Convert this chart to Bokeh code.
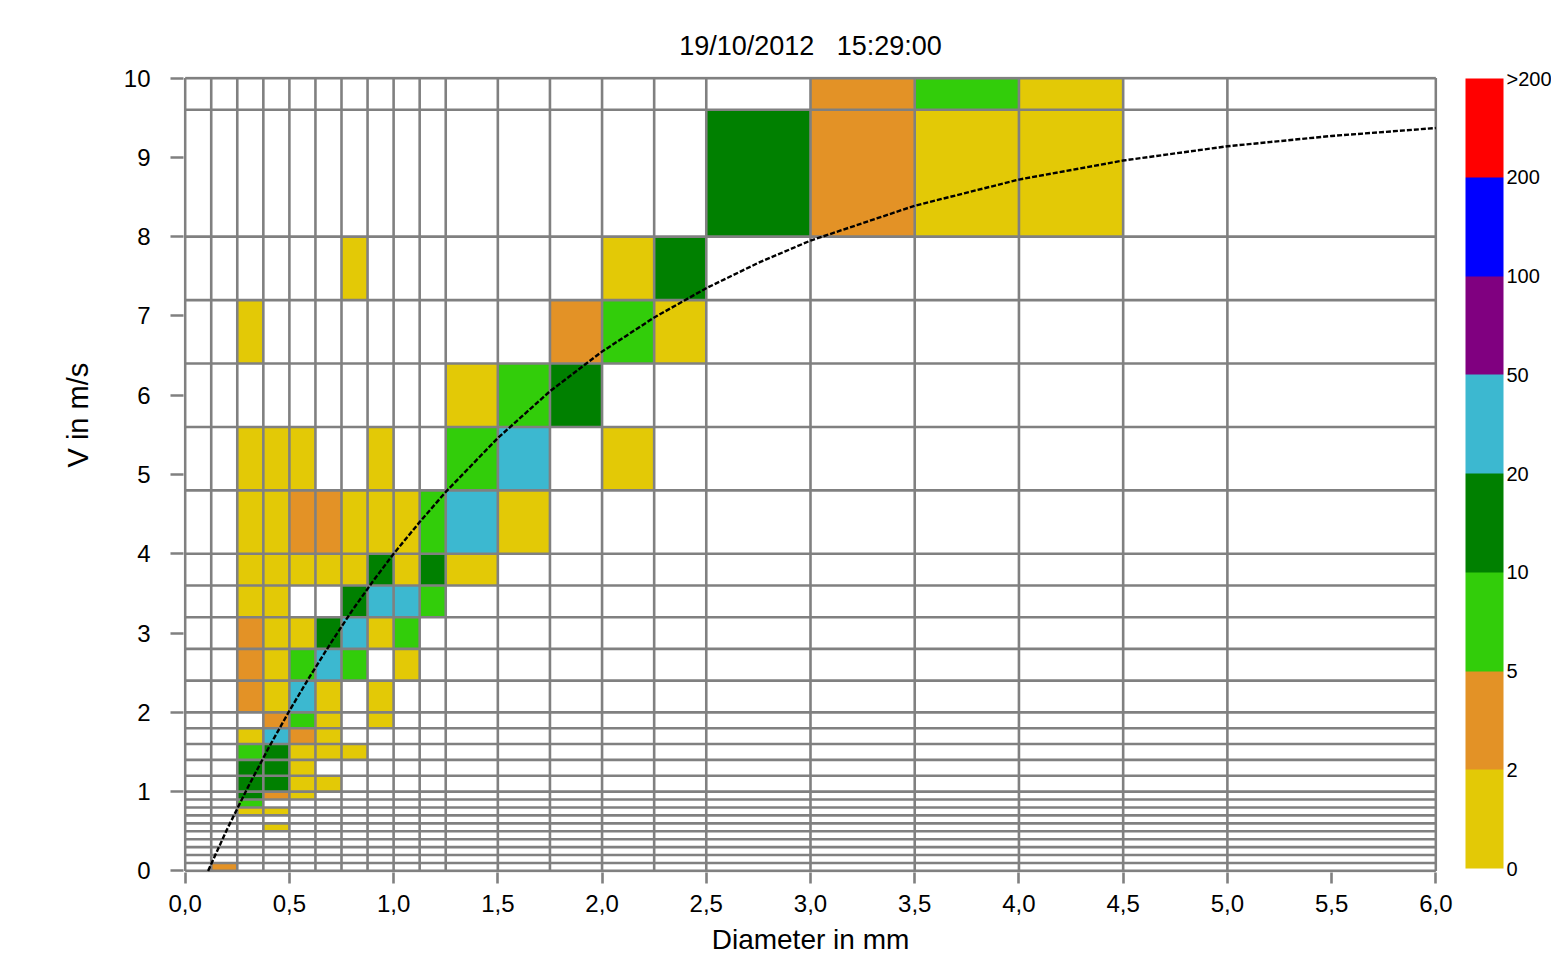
import numpy as np
from bokeh.plotting import figure
from bokeh.models import (Range1d, FixedTicker, LinearColorMapper, ColorBar, Title,
                          ColumnDataSource, CustomJSTickFormatter)
from bokeh.embed import file_html
from bokeh.resources import INLINE

# ---------------- data ----------------
title_text = "19/10/2012 \u00a0 15:29:00"
x_label = "Diameter in mm"
y_label = "V in m/s"

# class boundaries (diameter in mm, velocity in m/s)
d_edges = [0.0, 0.125, 0.25, 0.375, 0.5, 0.625, 0.75, 0.875, 1.0, 1.125, 1.25,
           1.5, 1.75, 2.0, 2.25, 2.5, 3.0, 3.5, 4.0, 4.5, 5.0, 6.0]
v_edges = [0.0, 0.1, 0.2, 0.3, 0.4, 0.5, 0.6, 0.7, 0.8, 0.9, 1.0, 1.2, 1.4, 1.6,
           1.8, 2.0, 2.4, 2.8, 3.2, 3.6, 4.0, 4.8, 5.6, 6.4, 7.2, 8.0, 9.6, 11.2]

# occupied cells: diameter class index, velocity class index, drop count
cell_d = [1,
          3,
          2, 3,
          2,
          2, 3, 4,
          2, 3, 4, 5,
          2, 3, 4,
          2, 3, 4, 5, 6,
          2, 3, 4, 5,
          3, 4, 5, 7,
          2, 3, 4, 5, 7,
          2, 3, 4, 5, 6, 8,
          2, 3, 4, 5, 6, 7, 8,
          2, 3, 6, 7, 8, 9,
          2, 3, 4, 5, 6, 7, 8, 9, 10,
          2, 3, 4, 5, 6, 7, 8, 9, 10, 11,
          2, 3, 4, 7, 10, 11, 13,
          10, 11, 12,
          2, 12, 13, 14,
          6, 13, 14,
          15, 16, 17, 18,
          16, 17, 18]
cell_v = [0,
          5,
          7, 7,
          8,
          9, 9, 9,
          10, 10, 10, 10,
          11, 11, 11,
          12, 12, 12, 12, 12,
          13, 13, 13, 13,
          14, 14, 14, 14,
          15, 15, 15, 15, 15,
          16, 16, 16, 16, 16, 16,
          17, 17, 17, 17, 17, 17, 17,
          18, 18, 18, 18, 18, 18,
          19, 19, 19, 19, 19, 19, 19, 19, 19,
          20, 20, 20, 20, 20, 20, 20, 20, 20, 20,
          21, 21, 21, 21, 21, 21, 21,
          22, 22, 22,
          23, 23, 23, 23,
          24, 24, 24,
          25, 25, 25, 25,
          26, 26, 26]
cell_n = [3,
          1,
          1, 1,
          7,
          15, 3, 1,
          15, 15, 1, 1,
          15, 15, 1,
          7, 15, 1, 1, 1,
          1, 30, 3, 1,
          3, 7, 1, 1,
          3, 1, 30, 1, 1,
          3, 1, 7, 30, 7, 1,
          3, 1, 1, 15, 30, 1, 7,
          1, 1, 15, 30, 30, 7,
          1, 1, 1, 1, 1, 15, 1, 15, 1,
          1, 1, 3, 3, 1, 1, 1, 7, 30, 1,
          1, 1, 1, 1, 7, 30, 1,
          1, 7, 15,
          1, 3, 7, 1,
          1, 1, 15,
          15, 3, 1, 1,
          3, 7, 1]

# colour classes (drop counts)
count_bounds = [0, 2, 5, 10, 20, 50, 100, 200]
count_labels = ["0", "2", "5", "10", "20", "50", "100", "200", ">200"]
palette = ["#E3C906", "#E39226", "#32CD0A", "#008000", "#3CB8D0",
           "#800080", "#0000FF", "#FF0000"]

# fall-velocity reference curve
curve_d = [0.11, 0.2, 0.3, 0.4, 0.5, 0.6, 0.7, 0.8, 0.9, 1.0, 1.125, 1.25, 1.5,
           1.75, 2.0, 2.25, 2.5, 2.75, 3.0, 3.5, 4.0, 4.5, 5.0, 5.5, 6.0]
curve_v = [0.0, 0.52, 1.05, 1.55, 2.02, 2.46, 2.88, 3.28, 3.65, 4.0, 4.4, 4.78, 5.46,
           6.05, 6.55, 6.98, 7.35, 7.67, 7.95, 8.39, 8.72, 8.96, 9.14, 9.27, 9.37]

x_ticks = [0.0, 0.5, 1.0, 1.5, 2.0, 2.5, 3.0, 3.5, 4.0, 4.5, 5.0, 5.5, 6.0]
y_ticks = [0, 1, 2, 3, 4, 5, 6, 7, 8, 9, 10]

# ---------------- figure ----------------
X_MAX, Y_MAX = 6.0, 10.0
FONT = "Liberation Sans"
GRID = "#808080"
LW = 2.6

W, H = 1551, 966
p = figure(width=W, height=H, output_backend="svg", toolbar_location=None,
           x_range=Range1d(-0.008, X_MAX + 0.008), y_range=Range1d(-0.02, Y_MAX + 0.02),
           min_border_left=183, min_border_right=114, min_border_top=76,
           min_border_bottom=H - 872)
p.outline_line_color = None
p.grid.visible = False
p.background_fill_color = "white"
p.border_fill_color = "white"

p.title.text = title_text
p.title.align = "center"
p.title.text_font = FONT
p.title.text_font_size = "27px"
p.title.text_font_style = "normal"
p.title.text_color = "black"
p.title.standoff = 31

# cells
d_e = np.array(d_edges)
v_e = np.array(v_edges)
ci = np.array(cell_d)
vi = np.array(cell_v)
cls = np.searchsorted(count_bounds, np.array(cell_n), side="right") - 1
mapper = LinearColorMapper(palette=palette, low=0, high=len(palette))
src = ColumnDataSource(dict(left=d_e[ci], right=d_e[ci + 1],
                            bottom=v_e[vi], top=np.minimum(v_e[vi + 1], Y_MAX),
                            cls=cls + 0.5, n=cell_n))
p.quad(left="left", right="right", bottom="bottom", top="top", source=src,
       fill_color={"field": "cls", "transform": mapper}, line_color=None)

# class grid
vx = [e for e in d_edges if e <= X_MAX]
hy = [e for e in v_edges if e <= Y_MAX] + [Y_MAX]
p.segment(x0=vx, y0=[0.0] * len(vx), x1=vx, y1=[Y_MAX] * len(vx),
          line_color=GRID, line_width=LW)
p.segment(x0=[0.0] * len(hy), y0=hy, x1=[X_MAX] * len(hy), y1=hy,
          line_color=GRID, line_width=LW)

# curve
p.line(curve_d, curve_v, line_color="black", line_width=2.4, line_dash="5 2")

# axes
for ax in (p.xaxis[0], p.yaxis[0]):
    ax.axis_line_color = None
    ax.major_tick_line_color = GRID
    ax.major_tick_line_width = LW
    ax.major_tick_in = 0
    ax.minor_tick_line_color = None
    ax.major_label_text_font = FONT
    ax.major_label_text_font_size = "24px"
    ax.major_label_text_color = "black"

p.xaxis.ticker = FixedTicker(ticks=x_ticks)
p.xaxis.formatter = CustomJSTickFormatter(code="return tick.toFixed(1).replace('.', ',');")
p.xaxis.major_tick_out = 11
p.xaxis.major_label_standoff = 11
p.xaxis.axis_label = x_label
p.xaxis.axis_label_text_font = FONT
p.xaxis.axis_label_text_font_size = "28px"
p.xaxis.axis_label_text_font_style = "normal"
p.xaxis.axis_label_text_color = "black"
p.xaxis.axis_label_standoff = 9

p.yaxis.ticker = FixedTicker(ticks=y_ticks)
p.yaxis.major_tick_out = 13
p.yaxis.major_label_standoff = 20

# y-axis title, placed left of the axis and raised as in the original
p.add_layout(Title(text=y_label, align="left", offset=405, standoff=53,
                   text_font=FONT, text_font_size="29px", text_font_style="normal",
                   text_color="black"), "left")

# colour bar
cb = ColorBar(color_mapper=mapper, width=38, height=790, padding=0, margin=0,
              location=(1282, 4), orientation="vertical",
              ticker=FixedTicker(ticks=list(range(len(count_labels)))),
              major_label_overrides={i: t for i, t in enumerate(count_labels)},
              major_label_text_font=FONT, major_label_text_font_size="20px",
              major_label_text_color="black",
              major_label_text_baseline="middle",
              major_tick_line_color=None, bar_line_color=None,
              border_line_color=None, background_fill_alpha=0, label_standoff=3)
p.add_layout(cb, "center")

open("out.html", "w").write(file_html(p, INLINE))
